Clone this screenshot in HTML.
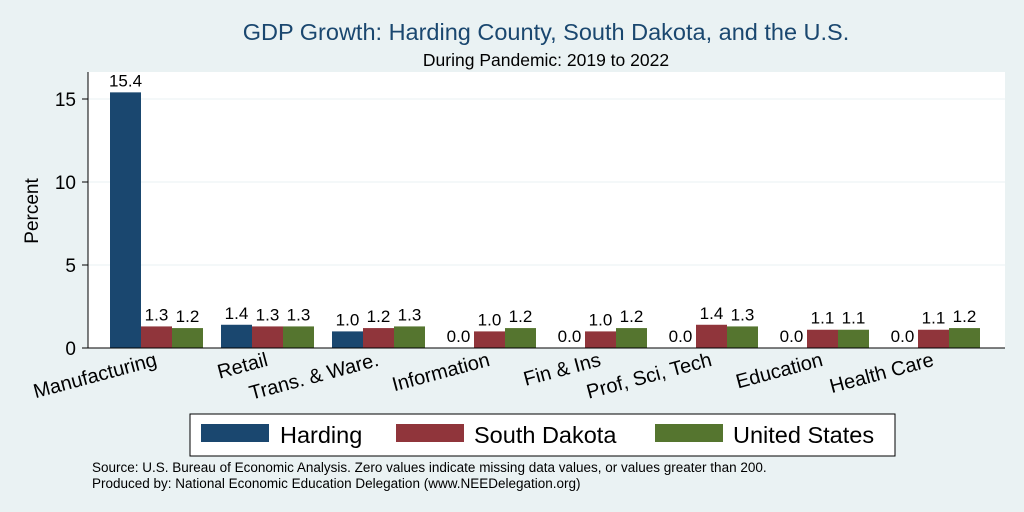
<!DOCTYPE html>
<html><head><meta charset="utf-8"><style>
body{margin:0;background:#eaf2f3;}
svg{display:block;font-family:"Liberation Sans",Arial,sans-serif;}
</style></head><body>
<svg id="c" width="1024" height="512">
<rect x="0" y="0" width="1024" height="512" fill="#eaf2f3"/>
<rect x="88" y="72" width="917" height="276" fill="#ffffff"/>
<text x="546" y="40" font-size="23.5" fill="#1a476f" text-anchor="middle">GDP Growth: Harding County, South Dakota, and the U.S.</text>
<text x="546" y="66" font-size="17.5" fill="#000" text-anchor="middle">During Pandemic: 2019 to 2022</text>
<text transform="translate(38,211) rotate(-90)" font-size="19" text-anchor="middle">Percent</text>
<g id="g"></g>
<rect x="190" y="414" width="705" height="42" fill="#fff" stroke="#000" stroke-width="1"/>
<g><rect x="201" y="424" width="68" height="18" fill="#1a476f"/><text x="280" y="443" font-size="23.5">Harding</text></g>
<g><rect x="396" y="424" width="68" height="18" fill="#90353b"/><text x="474" y="443" font-size="23.5">South Dakota</text></g>
<g><rect x="655" y="424" width="68" height="18" fill="#55752f"/><text x="733" y="443" font-size="23.5">United States</text></g>
<text x="92" y="472" font-size="13.5">Source: U.S. Bureau of Economic Analysis. Zero values indicate missing data values, or values greater than 200.</text>
<text x="92" y="488" font-size="13.5">Produced by: National Economic Education Delegation (www.NEEDelegation.org)</text>
</svg>
<script>
const categories=["Manufacturing","Retail","Trans. & Ware.","Information","Fin & Ins","Prof, Sci, Tech","Education","Health Care"];
const harding=[15.4,1.4,1.0,0.0,0.0,0.0,0.0,0.0];
const southDakota=[1.3,1.3,1.2,1.0,1.0,1.4,1.1,1.1];
const unitedStates=[1.2,1.3,1.3,1.2,1.2,1.3,1.1,1.2];
const yTicks=[0,5,10,15];
const NS="http://www.w3.org/2000/svg";
const g=document.getElementById('g');
function y(v){return 348-v*16.6;}
function x(i){return 110+i*111;}
function mk(t,a){const e=document.createElementNS(NS,t);for(const k in a)e.setAttribute(k,a[k]);g.appendChild(e);return e;}
yTicks.forEach(t=>{
  if(t>0){const l=mk('line',{x1:88,x2:1005,y1:y(t),y2:y(t),stroke:'#eaf2f3','stroke-width':1});
  
  }
  const tk=mk('line',{x1:82,x2:88,y1:y(t),y2:y(t),stroke:'#000'});
  
  
  const tx=mk('text',{x:76,y:y(t)+7,'font-size':19,'text-anchor':'end'});tx.textContent=t;
  
  
});
const ax=mk('line',{x1:88,x2:88,y1:72,y2:348,stroke:'#000'});


const series=[[harding,'#1a476f','harding'],[southDakota,'#90353b','south-dakota'],[unitedStates,'#55752f','united-states']];
categories.forEach((c,i)=>{
  series.forEach((s,j)=>{
    const v=s[0][i];const bx=x(i)+j*31;
    const r=mk('rect',{x:bx,y:y(v),width:31,height:348-y(v),fill:s[1]});
    
    
    const t=mk('text',{x:bx+15.5,y:y(v)-6,'font-size':17,'text-anchor':'middle'});t.textContent=v.toFixed(1);
    
    
  });
  const lx=x(i)+44;
  const l=mk('text',{transform:`translate(${lx},351) rotate(-15)`,'font-size':20,'text-anchor':'end',y:15});l.textContent=c;
  
  
});
const xa=mk('line',{x1:88,x2:1005,y1:348,y2:348,stroke:'#000'});


</script>
</body></html>
